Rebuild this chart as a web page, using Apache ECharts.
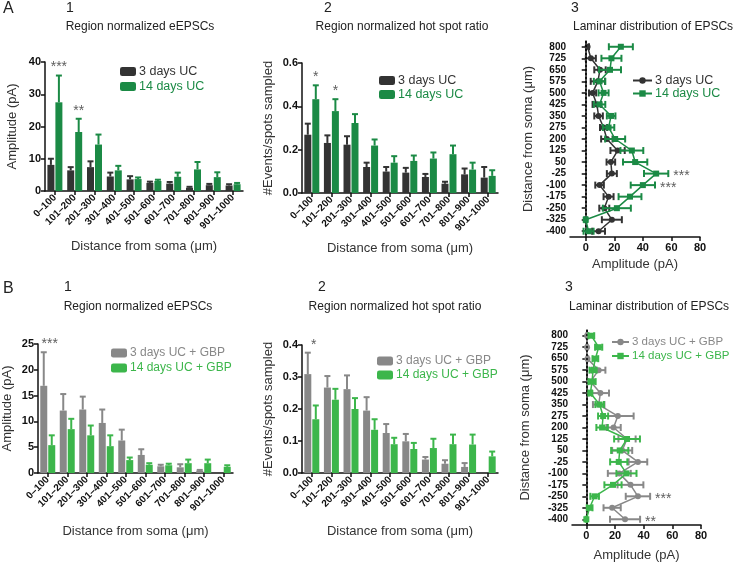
<!DOCTYPE html>
<html>
<head>
<meta charset="utf-8">
<script src="https://cdn.jsdelivr.net/npm/echarts@6/dist/echarts.min.js"></script>
<style>
  html, body { margin: 0; padding: 0; background: #fff; }
  #chart { width: 735px; height: 562px; }
</style>
</head>
<body>
<div id="chart"></div>
<script>
// categories
var cats = ['0–100', '101–200', '201–300', '301–400', '401–500', '501–600', '601–700', '701–800', '801–900', '901–1000'];
var depths = ['800', '725', '650', '575', '500', '425', '350', '275', '200', '125', '50', '-25', '-100', '-175', '-250', '-325', '-400'];

// A1 - region normalized eEPSCs (pA)
var a1Uc3 = [8.1, 6.4, 7.4, 4.5, 3.6, 2.5, 2.3, 1.0, 1.8, 1.7];
var a1Uc3Err = [1.9, 1.0, 1.8, 1.2, 1.0, 0.4, 0.5, 0.3, 0.4, 0.4];
var a1Uc14 = [27.5, 18.3, 14.4, 6.4, 3.7, 3.1, 4.4, 6.7, 4.3, 2.1];
var a1Uc14Err = [8.3, 4.1, 3.1, 1.4, 0.5, 0.4, 1.3, 2.3, 1.5, 0.4];

// A2 - hot spot ratio
var a2Uc3 = [0.269, 0.231, 0.223, 0.12, 0.099, 0.094, 0.074, 0.043, 0.086, 0.071];
var a2Uc3Err = [0.051, 0.035, 0.039, 0.02, 0.021, 0.022, 0.014, 0.009, 0.027, 0.049];
var a2Uc14 = [0.433, 0.378, 0.323, 0.219, 0.14, 0.148, 0.159, 0.179, 0.108, 0.079];
var a2Uc14Err = [0.064, 0.055, 0.041, 0.028, 0.03, 0.025, 0.028, 0.04, 0.032, 0.026];

// A3 - laminar distribution (pA), top row first
var a3Uc3 = [1.3, 3.6, 10, 8.5, 4.8, 7.8, 9, 12.5, 14.8, 22.3, 17.6, 18.3, 9.7, 16, 13, 18.3, 9];
var a3Uc3Err = [1, 3.5, 4, 5, 2.5, 3, 3, 2.5, 4, 5, 3, 3.5, 3, 3.5, 3.5, 7, 4.5];
var a3Uc14 = [24.6, 18, 17, 9.7, 12.5, 9.7, 17.8, 16, 20.6, 32.3, 34.6, 49.3, 40, 31, 21.8, 0, 2];
var a3Uc14Err = [8.4, 7, 7.7, 4, 3.5, 4, 3, 4, 7, 8, 8.5, 8.5, 8.5, 8, 9.8, 1, 3.5];

// B1 - with GBP
var b1Uc3 = [16.9, 12.1, 12.3, 9.7, 6.3, 3.5, 1.3, 1.1, 0.45, 0];
var b1Uc3Err = [6.5, 3.2, 2.5, 2.6, 2.1, 1.1, 0.3, 0.6, 0.15, 0];
var b1Uc14 = [5.4, 8.5, 7.3, 5.2, 2.5, 1.6, 1.5, 1.9, 1.9, 1.2];
var b1Uc14Err = [1.9, 2.0, 1.9, 2.1, 0.5, 0.3, 0.3, 0.7, 0.7, 0.3];

// B2
var b2Uc3 = [0.309, 0.267, 0.262, 0.195, 0.125, 0.099, 0.042, 0.029, 0.019, 0];
var b2Uc3Err = [0.067, 0.036, 0.043, 0.042, 0.028, 0.023, 0.008, 0.011, 0.012, 0];
var b2Uc14 = [0.168, 0.229, 0.2, 0.135, 0.09, 0.075, 0.078, 0.09, 0.089, 0.052];
var b2Uc14Err = [0.043, 0.034, 0.034, 0.033, 0.02, 0.019, 0.029, 0.03, 0.031, 0.015];

// B3
var b3Uc3 = [0.5, 0.5, 0.8, 8.6, 2.8, 9.8, 8.6, 22, 19, 28.4, 25, 36, 23, 30.8, 36, 18, 27];
var b3Uc3Err = [0.5, 0.5, 0.5, 4.7, 2, 6, 4, 11, 5, 6, 7, 6.5, 8, 9, 8.5, 6, 10.5];
var b3Uc14 = [3.5, 8.6, 6.3, 4.7, 4, 2.8, 9.3, 11.7, 11, 28.4, 23.3, 22.6, 28, 18.6, 5.8, 2.3, 0];
var b3Uc14Err = [2, 2.5, 2, 2.5, 2.5, 1, 3, 3.5, 4, 9, 6, 6, 7, 6, 3, 2, 0.5];

// significance marks: [index, text]
var a1Stars = [[0, '***'], [1, '**']];
var a2Stars = [[0, '*'], [1, '*']];
var a3Stars = [[11, '***'], [12, '***']];
var b1Stars = [[0, '***']];
var b2Stars = [[0, '*']];
var b3Stars = [[14, '***'], [16, '**']];

var FONT = '"Liberation Sans", Arial, Helvetica, sans-serif';
var DARK = '#333333';
var GREEN_A = '#1b8a45';
var GRAY_B = '#888888';
var GREEN_B = '#3cb64b';
var AX = '#111';

var myChart = echarts.init(document.getElementById('chart'));

// vertical error bar (upper only) for grouped bars
function barErr(offset, color) {
    return function (params, api) {
        var i = api.value(0), v = api.value(1), e = api.value(2);
        if (!e) return null;
        var p0 = api.coord([i, v]);
        var p1 = api.coord([i, v + e]);
        var x = p0[0] + offset;
        return {
            type: 'group', children: [
                { type: 'line', shape: { x1: x, y1: p0[1], x2: x, y2: p1[1] }, style: { stroke: color, lineWidth: 2 } },
                { type: 'line', shape: { x1: x - 3, y1: p1[1], x2: x + 3, y2: p1[1] }, style: { stroke: color, lineWidth: 2 } }
            ]
        };
    };
}

// horizontal error bar for laminar plots
function hErr(color) {
    return function (params, api) {
        var v = api.value(0), i = api.value(1), e = api.value(2);
        var a = api.coord([v - e, i]);
        var b = api.coord([v + e, i]);
        var y = a[1];
        return {
            type: 'group', children: [
                { type: 'line', shape: { x1: a[0], y1: y, x2: b[0], y2: y }, style: { stroke: color, lineWidth: 2 } },
                { type: 'line', shape: { x1: a[0], y1: y - 3.5, x2: a[0], y2: y + 3.5 }, style: { stroke: color, lineWidth: 2 } },
                { type: 'line', shape: { x1: b[0], y1: y - 3.5, x2: b[0], y2: y + 3.5 }, style: { stroke: color, lineWidth: 2 } }
            ]
        };
    };
}

function withErr(vals, errs) {
    return vals.map(function (v, i) { return [i, v, errs[i]]; });
}
function withErrH(vals, errs) {
    return vals.map(function (v, i) { return [v, i, errs[i]]; });
}

var grids = [
    { left: 45, top: 62, width: 198, height: 129 },    // A1
    { left: 302, top: 63, width: 196, height: 130 },   // A2
    { left: 570, top: 41, width: 130, height: 196 },   // A3
    { left: 38, top: 344, width: 195, height: 129 },   // B1
    { left: 302, top: 345, width: 196, height: 128 },  // B2
    { left: 572, top: 330, width: 129, height: 195 }   // B3
];
grids.forEach(function (g) { g.containLabel = false; g.outerBoundsMode = 'none'; });

var axisLine = { show: true, lineStyle: { color: AX, width: 1.5 } };
var axisTick = { show: true, length: 4, lineStyle: { color: AX, width: 1.5 } };
var nameStyle = { fontFamily: FONT, fontSize: 13, color: '#333' };

function catAxis(gi, gap) {
    return {
        gridIndex: gi, type: 'category', data: cats,
        axisLine: axisLine, axisTick: { show: true, alignWithLabel: true, length: 4, lineStyle: { color: AX, width: 1.5 } },
        axisLabel: { rotate: 45, interval: 0, fontSize: 10, fontWeight: 'bold', color: AX, margin: 5, fontFamily: FONT },
        name: 'Distance from soma (μm)', nameLocation: 'middle', nameGap: gap, nameTextStyle: nameStyle
    };
}
function valAxis(gi, max, step, name, gap, digits) {
    return {
        gridIndex: gi, type: 'value', min: 0, max: max, interval: step,
        splitLine: { show: false }, axisLine: axisLine, axisTick: axisTick,
        axisLabel: {
            fontSize: 11, fontWeight: 'bold', color: AX, margin: 4, fontFamily: FONT,
            formatter: function (v) { return digits ? v.toFixed(digits) : String(v); }
        },
        name: name, nameLocation: 'middle', nameGap: gap, nameTextStyle: nameStyle
    };
}
function ampAxis(gi, min, gap) {
    return {
        gridIndex: gi, type: 'value', min: min, max: 80,
        splitLine: { show: false }, axisLine: axisLine,
        axisTick: { show: true, length: 4, lineStyle: { color: AX, width: 1.5 }, customValues: [0, 20, 40, 60, 80] },
        axisLabel: { fontSize: 11, fontWeight: 'bold', color: AX, margin: 5, fontFamily: FONT, customValues: [0, 20, 40, 60, 80] },
        name: 'Amplitude (pA)', nameLocation: 'middle', nameGap: gap, nameTextStyle: nameStyle
    };
}
function depthAxis(gi, gap) {
    return {
        gridIndex: gi, type: 'category', data: depths, inverse: true,
        axisLine: axisLine, axisTick: { show: true, alignWithLabel: true, length: 4, lineStyle: { color: AX, width: 1.5 } },
        axisLabel: { interval: 0, fontSize: 10, fontWeight: 'bold', color: AX, margin: 4, fontFamily: FONT },
        name: 'Distance from soma (μm)', nameLocation: 'middle', nameGap: gap, nameTextStyle: nameStyle
    };
}

var xAxes = [
    catAxis(0, 49), catAxis(1, 49), ampAxis(2, -11, 21),
    catAxis(3, 52), catAxis(4, 52), ampAxis(5, -10, 24)
];
var yAxes = [
    valAxis(0, 40, 10, 'Amplitude (pA)', 26, 0),
    valAxis(1, 0.6, 0.2, '#Events/spots sampled', 27, 1),
    depthAxis(2, 35),
    valAxis(3, 25, 5, 'Amplitude (pA)', 24, 0),
    valAxis(4, 0.4, 0.1, '#Events/spots sampled', 27, 1),
    depthAxis(5, 40)
];

var series = [];

function barPanel(gi, tag, n3, n14, c3, c14, v3, e3, v14, e14, stars) {
    series.push({ name: tag + '|' + n3, type: 'bar', xAxisIndex: gi, yAxisIndex: gi, data: v3, barWidth: 7, barGap: '14%', itemStyle: { color: c3 } });
    series.push({ name: tag + '|' + n14, type: 'bar', xAxisIndex: gi, yAxisIndex: gi, data: v14, barWidth: 7, barGap: '14%', itemStyle: { color: c14 } });
    series.push({ type: 'custom', xAxisIndex: gi, yAxisIndex: gi, data: withErr(v3, e3), renderItem: barErr(-4, c3), clip: false, z: 3 });
    series.push({ type: 'custom', xAxisIndex: gi, yAxisIndex: gi, data: withErr(v14, e14), renderItem: barErr(4, c14), clip: false, z: 3 });
    // stars sit above the tallest error bar of the group
    series.push({
        type: 'scatter', xAxisIndex: gi, yAxisIndex: gi, symbolSize: 0, silent: true,
        data: stars.map(function (s) {
            var i = s[0];
            var top = Math.max(v3[i] + e3[i], v14[i] + e14[i]);
            var off = (v14[i] + e14[i] > v3[i] + e3[i]) ? 4 : 2;
            return { value: [i, top], name: s[1], label: { offset: [off, 0] } };
        }),
        label: { show: true, position: 'top', distance: 1, formatter: '{b}', color: DARK, fontSize: 14, fontFamily: FONT }
    });
}

function lamPanel(gi, tag, n3, n14, c3, c14, v3, e3, v14, e14, stars, starOnFirst) {
    series.push({
        name: tag + '|' + n3, type: 'line', xAxisIndex: gi, yAxisIndex: gi,
        data: v3.map(function (v, i) { return [v, i]; }),
        symbol: 'circle', symbolSize: 6, lineStyle: { color: c3, width: 1.5 }, itemStyle: { color: c3 }, z: 4,
        markLine: {
            silent: true, symbol: 'none', label: { show: false },
            lineStyle: { color: '#000', type: [2, 2], width: 1.5 },
            data: [{ xAxis: 0 }]
        }
    });
    series.push({
        name: tag + '|' + n14, type: 'line', xAxisIndex: gi, yAxisIndex: gi,
        data: v14.map(function (v, i) { return [v, i]; }),
        symbol: 'rect', symbolSize: 6, lineStyle: { color: c14, width: 1.5 }, itemStyle: { color: c14 }, z: 5
    });
    series.push({ type: 'custom', xAxisIndex: gi, yAxisIndex: gi, data: withErrH(v3, e3), renderItem: hErr(c3), clip: false, z: 4 });
    series.push({ type: 'custom', xAxisIndex: gi, yAxisIndex: gi, data: withErrH(v14, e14), renderItem: hErr(c14), clip: false, z: 5 });
    series.push({
        type: 'scatter', xAxisIndex: gi, yAxisIndex: gi, symbolSize: 0, silent: true,
        data: stars.map(function (s) {
            var i = s[0];
            var end = starOnFirst ? v3[i] + e3[i] : v14[i] + e14[i];
            return { value: [end, i], name: s[1] };
        }),
        label: { show: true, position: 'right', distance: 5, offset: [0, 3], formatter: '{b}', color: DARK, fontSize: 14, fontFamily: FONT }
    });
}

barPanel(0, 'A1', '3 days UC', '14 days UC', DARK, GREEN_A, a1Uc3, a1Uc3Err, a1Uc14, a1Uc14Err, a1Stars);
barPanel(1, 'A2', '3 days UC', '14 days UC', DARK, GREEN_A, a2Uc3, a2Uc3Err, a2Uc14, a2Uc14Err, a2Stars);
lamPanel(2, 'A3', '3 days UC', '14 days UC', DARK, GREEN_A, a3Uc3, a3Uc3Err, a3Uc14, a3Uc14Err, a3Stars, false);
barPanel(3, 'B1', '3 days UC + GBP', '14 days UC + GBP', GRAY_B, GREEN_B, b1Uc3, b1Uc3Err, b1Uc14, b1Uc14Err, b1Stars);
barPanel(4, 'B2', '3 days UC + GBP', '14 days UC + GBP', GRAY_B, GREEN_B, b2Uc3, b2Uc3Err, b2Uc14, b2Uc14Err, b2Stars);
lamPanel(5, 'B3', '3 days UC + GBP', '14 days UC + GBP', GRAY_B, GREEN_B, b3Uc3, b3Uc3Err, b3Uc14, b3Uc14Err, b3Stars, true);

function legendFor(tag, n3, n14, c3, c14, left, top, gap, iw, ih, fs) {
    return {
        left: left, top: top, orient: 'vertical', itemGap: gap, itemWidth: iw, itemHeight: ih,
        selectedMode: false,
        formatter: function (n) { return n.split('|')[1]; },
        textStyle: { fontSize: fs, fontFamily: FONT, padding: [0, 0, 0, -2] },
        data: [
            { name: tag + '|' + n3, textStyle: { color: c3 } },
            { name: tag + '|' + n14, textStyle: { color: c14 } }
        ]
    };
}

var legends = [
    legendFor('A1', '3 days UC', '14 days UC', DARK, GREEN_A, 115, 60, 2, 16, 9, 12.5),
    legendFor('A2', '3 days UC', '14 days UC', DARK, GREEN_A, 374, 69, 1, 16, 9, 12.5),
    legendFor('A3', '3 days UC', '14 days UC', DARK, GREEN_A, 627, 69, 0, 19, 8, 12.5),
    legendFor('B1', '3 days UC + GBP', '14 days UC + GBP', GRAY_B, GREEN_B, 106, 342, 3, 16, 9, 12),
    legendFor('B2', '3 days UC + GBP', '14 days UC + GBP', GRAY_B, GREEN_B, 372, 350, 2, 16, 9, 12),
    legendFor('B3', '3 days UC + GBP', '14 days UC + GBP', GRAY_B, GREEN_B, 606, 331, 2, 17, 8, 11.5)
];

function txt(s, x, y, size, align) {
    return {
        type: 'text', x: x, y: y, silent: true,
        style: {
            text: s, fill: '#222', font: size + 'px ' + FONT,
            textAlign: align || 'center', align: align || 'center',
            textVerticalAlign: 'middle', verticalAlign: 'middle'
        }
    };
}

var graphics = [
    txt('A', 3, 9, 16, 'left'), txt('B', 3, 289, 16, 'left'),
    txt('1', 70, 8, 14), txt('2', 328, 8, 14), txt('3', 575, 8, 14),
    txt('1', 68, 287, 14), txt('2', 322, 287, 14), txt('3', 569, 287, 14),
    txt('Region normalized eEPSCs', 140, 27, 12),
    txt('Region normalized hot spot ratio', 402, 27, 12),
    txt('Laminar distribution of EPSCs', 573, 27, 12, 'left'),
    txt('Region normalized eEPSCs', 138, 307, 12),
    txt('Region normalized hot spot ratio', 395, 307, 12),
    txt('Laminar distribution of EPSCs', 569, 307, 12, 'left')
];

var option = {
    animation: false,
    backgroundColor: '#fff',
    textStyle: { fontFamily: FONT },
    grid: grids,
    xAxis: xAxes,
    yAxis: yAxes,
    legend: legends,
    graphic: graphics,
    series: series
};
myChart.setOption(option);
</script>
</body>
</html>
